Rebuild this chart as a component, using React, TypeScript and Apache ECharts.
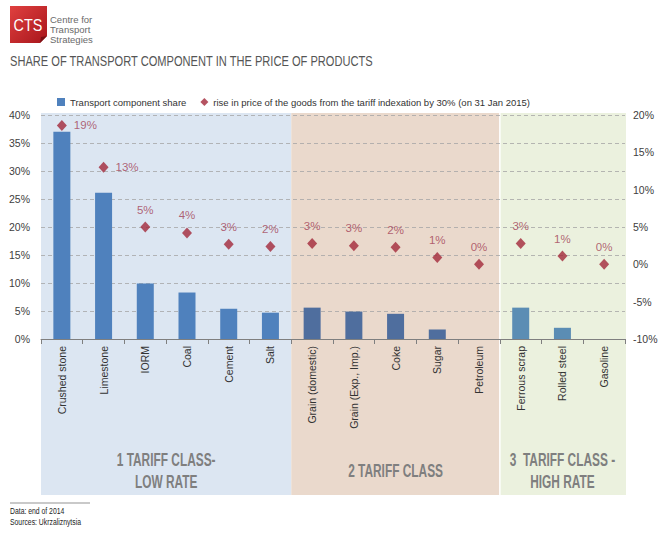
import React, { useEffect, useRef } from "react";
import * as echarts from "echarts";

const categories = [
  "Crushed stone", "Limestone", "IORM", "Coal", "Cement", "Salt",
  "Grain (domestic)", "Grain (Exp., Imp.)", "Coke", "Sugar", "Petroleum",
  "Ferrous scrap", "Rolled steel", "Gasoline",
];
const transportShare = [37.0, 26.1, 9.9, 8.3, 5.4, 4.7, 5.6, 4.9, 4.5, 1.7, 0, 5.6, 2.0, 0];
const priceRise = [18.6, 13.0, 5.0, 4.2, 2.7, 2.4, 2.8, 2.5, 2.3, 0.9, 0.0, 2.8, 1.1, 0.0];
const priceRiseLabels = ["19%", "13%", "5%", "4%", "3%", "2%", "3%", "3%", "2%", "1%", "0%", "3%", "1%", "0%"];
const classSizes = [6, 5, 3];
const classLabels = ["1 TARIFF CLASS-\nLOW RATE", "2 TARIFF CLASS", "3  TARIFF CLASS -\nHIGH RATE"];
const leftAxis = { min: 0, max: 40, interval: 5 };
const rightAxis = { min: -10, max: 20, interval: 5 };
const seriesNames = ["Transport component share", "rise in price of the goods from the tariff indexation by 30% (on 31 Jan 2015)"];

const FONT = "'Liberation Sans', Arial, sans-serif";
const bandColors = ["#dce6f2", "#ead9cc", "#ebf1de"];
const barColors = ["#4f81bd", "#4f6e9e", "#5b8db4"];

export default function App() {
  const ref = useRef<HTMLDivElement>(null);
  useEffect(() => {
    if (!ref.current) return;
    const chart = echarts.init(ref.current, null, { renderer: "svg" });
    const gl = 41, gr = 625, gt = 115, gb = 339;
    const catW = (gr - gl) / categories.length;
    const classOf: number[] = [];
    classSizes.forEach((n, ci) => { for (let i = 0; i < n; i++) classOf.push(ci); });

    const graphics: any[] = [];
    let start = 0;
    classSizes.forEach((n, ci) => {
      const x0 = gl + start * catW;
      const x1 = gl + (start + n) * catW;
      graphics.push({
        type: "rect", z: -100, silent: true,
        shape: { x: x0, y: 113, width: x1 - x0 + (ci === 2 ? 1 : 0), height: 495 - 113 },
        style: { fill: bandColors[ci] },
      });
      const lines = classLabels[ci].split("\n");
      lines.forEach((ln, li) => {
        const cy = lines.length === 1 ? 471 : 460 + li * 22;
        graphics.push({
          type: "text", z: -50, silent: true,
          x: (x0 + x1) / 2, y: cy, scaleX: 0.66,
          style: {
            text: ln, fill: "#7f7f7f", font: `bold 18px ${FONT}`,
            textAlign: "center", textVerticalAlign: "middle",
          },
        });
      });
      start += n;
    });
    graphics.push({
      type: "line", z: -90, silent: true,
      shape: { x1: gl + 11 * catW, y1: 113, x2: gl + 11 * catW, y2: 495 },
      style: { stroke: "#ffffff", lineWidth: 1.5 },
    });
    // logo
    graphics.push({
      type: "polygon",
      shape: { points: [[10, 6], [47, 6], [47, 36], [40, 43], [10, 43]] },
      style: {
        fill: new echarts.graphic.LinearGradient(0, 0, 1, 1, [
          { offset: 0, color: "#e0403f" },
          { offset: 1, color: "#a8161c" },
        ]),
      },
    });
    graphics.push({
      type: "polygon",
      shape: { points: [[47, 36], [40, 43], [41, 37]] },
      style: { fill: "#7a1015" },
    });
    graphics.push({
      type: "text", x: 28, y: 25, scaleX: 0.9,
      style: { text: "CTS", fill: "#ffffff", font: `16px ${FONT}`, textAlign: "center", textVerticalAlign: "middle" },
    });
    ["Centre for", "Transport", "Strategies"].forEach((t, i) => {
      graphics.push({
        type: "text", x: 50, y: 19 + i * 10,
        style: { text: t, fill: "#6a6a6a", font: `9.5px ${FONT}`, textVerticalAlign: "middle" },
      });
    });
    graphics.push({
      type: "text", x: 10, y: 61, scaleX: 0.74,
      style: {
        text: "SHARE OF TRANSPORT COMPONENT IN THE PRICE OF PRODUCTS",
        fill: "#555555", font: `15px ${FONT}`, textVerticalAlign: "middle",
      },
    });
    graphics.push({
      type: "line", shape: { x1: 10, y1: 503, x2: 90, y2: 503 },
      style: { stroke: "#666", lineWidth: 0.7 },
    });
    graphics.push({
      type: "text", x: 10, y: 511, scaleX: 0.72,
      style: { text: "Data: end of 2014", fill: "#222", font: `9.5px ${FONT}`, textVerticalAlign: "middle" },
    });
    graphics.push({
      type: "text", x: 10, y: 522, scaleX: 0.72,
      style: { text: "Sources: Ukrzaliznytsia", fill: "#222", font: `9.5px ${FONT}`, textVerticalAlign: "middle" },
    });

    const option: any = {
      animation: false,
      backgroundColor: "#ffffff",
      textStyle: { fontFamily: FONT },
      graphic: graphics,
      legend: {
        left: 52, top: 92,
        itemWidth: 8, itemHeight: 8, itemGap: 14,
        textStyle: { fontSize: 9.5, color: "#333", fontFamily: FONT },
        data: [
          { name: seriesNames[0], icon: "rect" },
          { name: seriesNames[1], icon: "diamond" },
        ],
      },
      grid: { left: gl, right: 668 - gr, top: gt, bottom: 540 - gb, containLabel: false },
      xAxis: {
        type: "category",
        data: categories,
        axisLine: { lineStyle: { color: "#7f7f7f" } },
        axisTick: { show: true, length: 5, lineStyle: { color: "#7f7f7f" } },
        axisLabel: { rotate: 90, fontSize: 10.5, color: "#333", margin: 7, fontFamily: FONT, interval: 0 },
      },
      yAxis: [
        {
          type: "value", ...leftAxis,
          axisLine: { show: false }, axisTick: { show: false },
          axisLabel: { formatter: "{value}%", fontSize: 10.5, color: "#404040", margin: 11, fontFamily: FONT },
          splitLine: { lineStyle: { color: "#a6a6a6", type: [4, 3], width: 0.8 } },
        },
        {
          type: "value", ...rightAxis, position: "right",
          axisLine: { show: false }, axisTick: { show: false },
          axisLabel: { formatter: "{value}%", fontSize: 10.5, color: "#404040", margin: 8, fontFamily: FONT },
          splitLine: { show: false },
        },
      ],
      series: [
        {
          name: seriesNames[0], type: "bar", yAxisIndex: 0, barWidth: 17,
          itemStyle: { color: barColors[0] },
          data: transportShare.map((v, i) => ({ value: v, itemStyle: { color: barColors[classOf[i]] } })),
        },
        {
          name: seriesNames[1], type: "scatter", yAxisIndex: 1,
          symbol: "diamond", symbolSize: [10, 11],
          itemStyle: { color: "#a3283a" },
          data: priceRise.map((v, i) => ({
            value: v,
            label: {
              show: true,
              position: i < 2 ? "right" : "top",
              distance: i < 2 ? 7 : 6,
              formatter: () => priceRiseLabels[i],
              color: "#a23e55", fontSize: 11.5, fontFamily: FONT,
            },
          })),
        },
      ],
    };
    chart.setOption(option);
    return () => chart.dispose();
  }, []);
  return (
    <div
      ref={ref}
      style={{ position: "fixed", left: 0, top: 0, width: 668, height: 540, background: "#fff" }}
    />
  );
}
